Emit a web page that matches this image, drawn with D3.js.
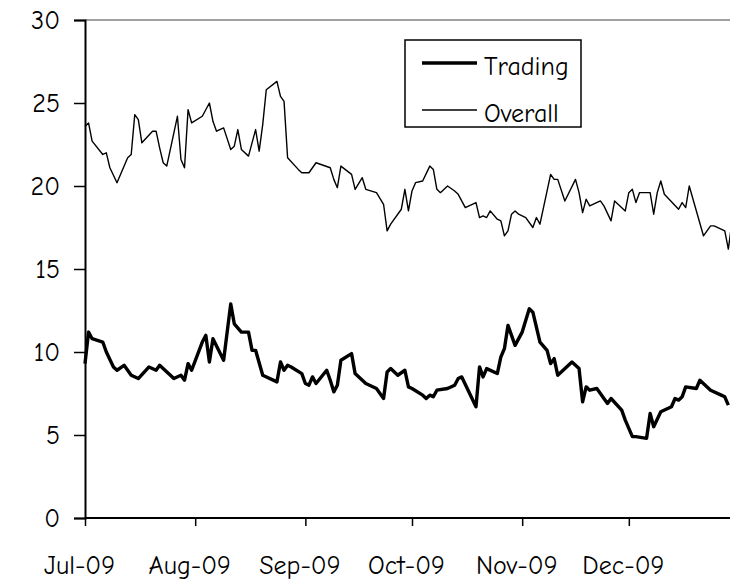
<!DOCTYPE html>
<html>
<head>
<meta charset="utf-8">
<script src="https://cdn.jsdelivr.net/npm/d3@7"></script>
<style>
  html, body { margin: 0; padding: 0; background: #fff; }
  svg { display: block; }
  text { font-family: "Comic Sans MS", "Comic Neue", "DejaVu Sans", sans-serif; fill: #000; }
</style>
</head>
<body>
<svg id="chart" width="730" height="587"></svg>
<script>
// ---- Data ----
const overallDates = [
  "2009-07-01","2009-07-02","2009-07-03","2009-07-06","2009-07-07","2009-07-08","2009-07-10","2009-07-13","2009-07-14","2009-07-15",
  "2009-07-16","2009-07-17","2009-07-20","2009-07-21","2009-07-22","2009-07-23","2009-07-24","2009-07-27","2009-07-28","2009-07-29",
  "2009-07-30","2009-07-31","2009-08-03","2009-08-05","2009-08-06","2009-08-07","2009-08-09","2009-08-11","2009-08-12","2009-08-13",
  "2009-08-14","2009-08-16","2009-08-18","2009-08-19","2009-08-20","2009-08-21","2009-08-24","2009-08-25","2009-08-26","2009-08-27",
  "2009-08-30","2009-08-31","2009-09-02","2009-09-04","2009-09-08","2009-09-09","2009-09-10","2009-09-11","2009-09-14","2009-09-15",
  "2009-09-17","2009-09-18","2009-09-21","2009-09-23","2009-09-24","2009-09-25","2009-09-28","2009-09-29","2009-09-30","2009-10-01",
  "2009-10-02","2009-10-04","2009-10-06","2009-10-07","2009-10-08","2009-10-09","2009-10-11","2009-10-13","2009-10-14","2009-10-16",
  "2009-10-19","2009-10-20","2009-10-21","2009-10-22","2009-10-23","2009-10-25","2009-10-26","2009-10-27","2009-10-28","2009-10-29",
  "2009-10-30","2009-10-31","2009-11-02","2009-11-04","2009-11-05","2009-11-06","2009-11-09","2009-11-10","2009-11-11","2009-11-13",
  "2009-11-16","2009-11-17","2009-11-18","2009-11-19","2009-11-20","2009-11-23","2009-11-24","2009-11-26","2009-11-27","2009-11-30",
  "2009-12-01","2009-12-02","2009-12-03","2009-12-04","2009-12-07","2009-12-08","2009-12-09","2009-12-10","2009-12-11","2009-12-15",
  "2009-12-16","2009-12-17","2009-12-18","2009-12-22","2009-12-24","2009-12-25","2009-12-28","2009-12-29","2009-12-30"
];
const overallValues = [
  23.6,23.8,22.7,21.9,22.0,21.1,20.2,21.7,21.9,24.3,
  24.0,22.6,23.3,23.3,22.3,21.4,21.2,24.2,21.6,21.1,
  24.6,23.8,24.2,25.0,23.9,23.3,23.5,22.2,22.4,23.4,
  22.2,21.8,23.4,22.1,23.7,25.8,26.3,25.4,25.1,21.7,
  21.0,20.8,20.8,21.4,21.1,20.4,19.9,21.2,20.7,19.8,
  20.5,19.8,19.6,18.9,17.3,17.7,18.6,19.8,18.5,19.7,
  20.2,20.3,21.2,21.0,19.8,19.6,20.0,19.7,19.5,18.7,
  19.0,18.1,18.2,18.1,18.5,18.0,17.9,17.0,17.3,18.3,
  18.5,18.3,18.1,17.5,18.1,17.7,20.7,20.4,20.4,19.1,
  20.4,19.6,18.4,19.2,18.8,19.1,18.8,17.9,19.1,18.5,
  19.6,19.8,19.0,19.6,19.6,18.3,19.6,20.3,19.5,18.6,
  19.0,18.7,20.0,17.0,17.6,17.6,17.3,16.2,17.8
];
const tradingDates = [
  "2009-07-01","2009-07-02","2009-07-03","2009-07-06","2009-07-07","2009-07-09","2009-07-10","2009-07-12","2009-07-14","2009-07-16",
  "2009-07-19","2009-07-21","2009-07-22","2009-07-26","2009-07-28","2009-07-29","2009-07-30","2009-07-31","2009-08-03","2009-08-04",
  "2009-08-05","2009-08-06","2009-08-09","2009-08-11","2009-08-12","2009-08-14","2009-08-16","2009-08-17","2009-08-18","2009-08-20",
  "2009-08-24","2009-08-25","2009-08-26","2009-08-27","2009-08-28","2009-08-31","2009-09-01","2009-09-02","2009-09-03","2009-09-04",
  "2009-09-07","2009-09-08","2009-09-09","2009-09-10","2009-09-11","2009-09-14","2009-09-15","2009-09-18","2009-09-21","2009-09-23",
  "2009-09-24","2009-09-25","2009-09-27","2009-09-29","2009-09-30","2009-10-01","2009-10-04","2009-10-05","2009-10-06","2009-10-07",
  "2009-10-08","2009-10-11","2009-10-13","2009-10-14","2009-10-15","2009-10-19","2009-10-20","2009-10-21","2009-10-22","2009-10-25",
  "2009-10-26","2009-10-27","2009-10-28","2009-10-30","2009-11-01","2009-11-03","2009-11-04","2009-11-06","2009-11-08","2009-11-09",
  "2009-11-10","2009-11-11","2009-11-15","2009-11-17","2009-11-18","2009-11-19","2009-11-20","2009-11-22","2009-11-25","2009-11-26",
  "2009-11-29","2009-11-30","2009-12-02","2009-12-03","2009-12-06","2009-12-07","2009-12-08","2009-12-10","2009-12-13","2009-12-14",
  "2009-12-15","2009-12-16","2009-12-17","2009-12-20","2009-12-21","2009-12-24","2009-12-27","2009-12-28","2009-12-29"
];
const tradingValues = [
  9.3,11.2,10.8,10.6,10.0,9.1,8.9,9.2,8.6,8.4,
  9.1,8.9,9.2,8.4,8.6,8.3,9.3,8.9,10.6,11.0,
  9.4,10.8,9.5,12.9,11.7,11.2,11.2,10.1,10.1,8.6,
  8.2,9.4,8.9,9.2,9.1,8.7,8.1,8.0,8.5,8.1,
  8.9,8.3,7.6,8.0,9.5,9.9,8.7,8.1,7.8,7.2,
  8.8,9.0,8.6,8.9,7.9,7.8,7.4,7.2,7.4,7.3,
  7.7,7.8,8.0,8.4,8.5,6.7,9.1,8.5,9.0,8.7,
  9.7,10.2,11.6,10.4,11.2,12.6,12.4,10.6,10.1,9.3,
  9.6,8.6,9.4,9.0,7.0,7.9,7.7,7.8,6.9,7.2,
  6.5,5.9,4.9,4.9,4.8,6.3,5.5,6.4,6.7,7.2,
  7.1,7.3,7.9,7.8,8.3,7.7,7.4,7.3,6.8
];
const yTickValues = [0, 5, 10, 15, 20, 25, 30];
const monthTicks = ["2009-07-01","2009-08-01","2009-09-01","2009-10-01","2009-11-01","2009-12-01"];
const monthLabels = ["Jul-09","Aug-09","Sep-09","Oct-09","Nov-09","Dec-09"];
const seriesNames = ["Trading", "Overall"];

// ---- Chart ----
const parse = d3.timeParse("%Y-%m-%d");
const svg = d3.select("#chart");
const W = 730, H = 587;
const plotLeft = 85, plotTop = 20, plotBottom = 518;

const x = d3.scaleTime()
  .domain([parse("2009-07-01"), parse("2010-01-01")])
  .range([plotLeft, 739]);
const y = d3.scaleLinear().domain([0, 30]).range([plotBottom, plotTop]);

// top border of plot area
svg.append("line")
  .attr("x1", plotLeft).attr("x2", W)
  .attr("y1", y(30)).attr("y2", y(30))
  .attr("stroke", "#a0a0a0").attr("stroke-width", 2);

const overall = overallDates.map((d, i) => ({ date: parse(d), value: overallValues[i] }));
const trading = tradingDates.map((d, i) => ({ date: parse(d), value: tradingValues[i] }));

const line = d3.line().x(d => x(d.date)).y(d => y(d.value));

svg.append("path")
  .datum(overall)
  .attr("fill", "none").attr("stroke", "#000")
  .attr("stroke-width", 1.4).attr("stroke-linejoin", "round")
  .attr("d", line);

svg.append("path")
  .datum(trading)
  .attr("fill", "none").attr("stroke", "#000")
  .attr("stroke-width", 3.4).attr("stroke-linejoin", "round")
  .attr("d", line);

// y axis
const yAxis = d3.axisLeft(y).tickValues(yTickValues).tickSize(11).tickPadding(0).tickFormat(d3.format("d"));
const gy = svg.append("g").attr("transform", `translate(${plotLeft},0)`).call(yAxis);
gy.select(".domain").attr("stroke", "#000").attr("stroke-width", 2);
gy.selectAll(".tick line").attr("stroke", "#000").attr("stroke-width", 1.5);
gy.selectAll(".tick text")
  .attr("x", -25)
  .attr("font-size", 26)
  .attr("text-anchor", "end");

// x axis
const xAxis = d3.axisBottom(x)
  .tickValues(monthTicks.map(parse))
  .tickSize(8)
  .tickFormat((d, i) => monthLabels[i]);
const gx = svg.append("g").attr("transform", `translate(0,${plotBottom})`).call(xAxis);
gx.select(".domain").remove();
gx.append("line").attr("x1", plotLeft).attr("x2", W).attr("y1", 0).attr("y2", 0)
  .attr("stroke", "#000").attr("stroke-width", 2);
gx.selectAll(".tick line").attr("stroke", "#000").attr("stroke-width", 1.5);
gx.selectAll(".tick text")
  .attr("font-size", 26)
  .attr("x", -6)
  .attr("y", 47)
  .attr("dy", "0.35em")
  .attr("text-anchor", "middle");

// legend
const lg = svg.append("g").attr("transform", "translate(405,40)");
lg.append("rect").attr("x", 0).attr("y", 0).attr("width", 176).attr("height", 87)
  .attr("fill", "#fff").attr("stroke", "#000").attr("stroke-width", 1.5);
const lw = [3.4, 1.4];
seriesNames.forEach((name, i) => {
  const yy = 23 + i * 47;
  lg.append("line").attr("x1", 17).attr("x2", 72).attr("y1", yy).attr("y2", yy)
    .attr("stroke", "#000").attr("stroke-width", lw[i]);
  lg.append("text").attr("x", 79).attr("y", yy + 3).attr("dy", "0.35em")
    .attr("font-size", 26).text(name);
});
</script>
</body>
</html>
